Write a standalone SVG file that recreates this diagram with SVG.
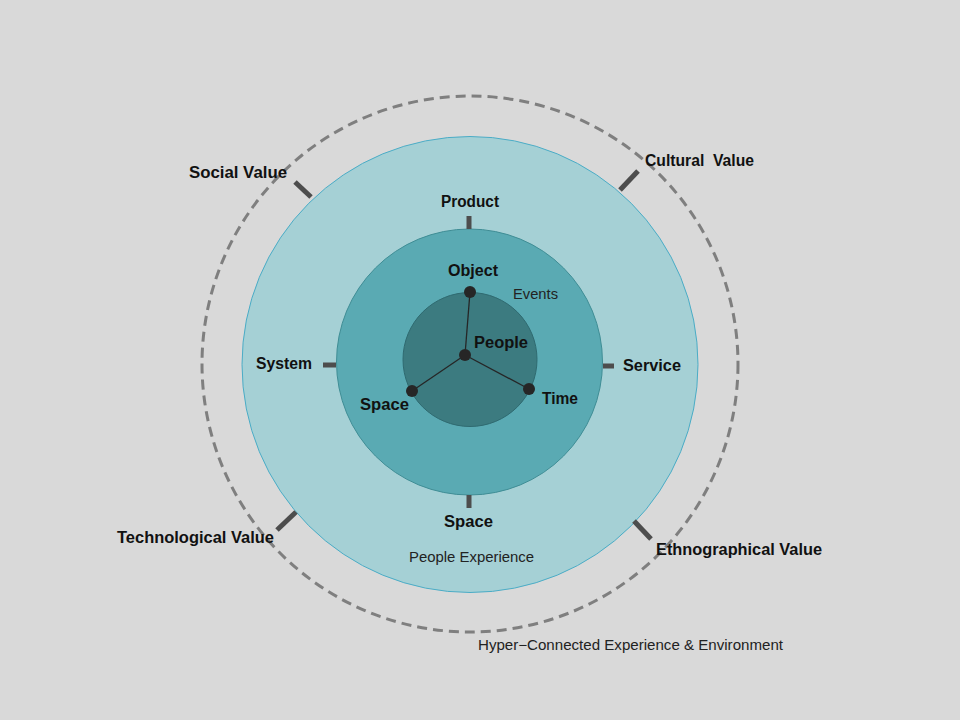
<svg xmlns="http://www.w3.org/2000/svg" width="960" height="720" viewBox="0 0 960 720">
<style>
.lbl{font-family:"Liberation Sans",Arial,sans-serif;font-weight:bold;font-size:16px;fill:#111}
.sm{font-family:"Liberation Sans",Arial,sans-serif;font-size:14px;fill:#222}
.tick{stroke:#4d4d4d;stroke-width:5;fill:none}
.dot{fill:#262626}
.spoke{stroke:#262626;stroke-width:1.3}
</style>
<rect width="960" height="720" fill="#d9d9d9"/>
<g id="environment">
<circle cx="470" cy="364" r="268" fill="none" stroke="#7f7f7f" stroke-width="3" stroke-dasharray="10 6"/>
<text class="sm" x="478" y="650" textLength="305" lengthAdjust="spacingAndGlyphs">Hyper−Connected Experience &amp; Environment</text>
</g>
<g id="people-experience">
<circle cx="470" cy="364.5" r="228" fill="#a5d0d5" stroke="#4bacc6" stroke-width="1"/>
<text class="sm" x="409" y="562" textLength="125" lengthAdjust="spacingAndGlyphs">People Experience</text>
</g>
<g id="events">
<circle cx="469.5" cy="362" r="133" fill="#5aaab3" stroke="#3f8d95" stroke-width="1"/>
<text class="sm" x="513" y="299" textLength="45" lengthAdjust="spacingAndGlyphs">Events</text>
</g>
<g id="core">
<circle cx="470" cy="359.5" r="67" fill="#3c7b80" stroke="#2f6a70" stroke-width="1"/>
</g>
<g id="connectors">
<line class="spoke" x1="465" y1="355" x2="470" y2="292"/>
<line class="spoke" x1="465" y1="355" x2="529" y2="389"/>
<line class="spoke" x1="465" y1="355" x2="412" y2="391"/>
<line class="tick" x1="469" y1="216" x2="469" y2="229"/>
<line class="tick" x1="469" y1="495" x2="469" y2="508"/>
<line class="tick" x1="323" y1="365" x2="336" y2="365"/>
<line class="tick" x1="603" y1="366" x2="614" y2="366"/>
<line class="tick" x1="295" y1="182" x2="311" y2="197"/>
<line class="tick" x1="620" y1="190" x2="638" y2="171"/>
<line class="tick" x1="277" y1="530" x2="296" y2="512"/>
<line class="tick" x1="634" y1="521" x2="651" y2="539"/>
</g>
<g id="people"><circle class="dot" cx="465" cy="355" r="6"/><text class="lbl" x="474" y="348" textLength="54" lengthAdjust="spacingAndGlyphs">People</text></g>
<g id="object"><circle class="dot" cx="470" cy="292" r="6"/><text class="lbl" x="448" y="276" textLength="50" lengthAdjust="spacingAndGlyphs">Object</text></g>
<g id="time"><circle class="dot" cx="529" cy="389" r="6"/><text class="lbl" x="542" y="404" textLength="36" lengthAdjust="spacingAndGlyphs">Time</text></g>
<g id="space-inner"><circle class="dot" cx="412" cy="391" r="6"/><text class="lbl" x="360" y="410" textLength="49" lengthAdjust="spacingAndGlyphs">Space</text></g>
<g id="product"><text class="lbl" x="441" y="207" textLength="58" lengthAdjust="spacingAndGlyphs">Product</text></g>
<g id="space-outer"><text class="lbl" x="444" y="527" textLength="49" lengthAdjust="spacingAndGlyphs">Space</text></g>
<g id="system"><text class="lbl" x="256" y="369" textLength="56" lengthAdjust="spacingAndGlyphs">System</text></g>
<g id="service"><text class="lbl" x="623" y="371" textLength="58" lengthAdjust="spacingAndGlyphs">Service</text></g>
<g id="social-value"><text class="lbl" x="189" y="178" textLength="98" lengthAdjust="spacingAndGlyphs">Social Value</text></g>
<g id="cultural-value"><text class="lbl" x="645" y="166" xml:space="preserve" textLength="109" lengthAdjust="spacingAndGlyphs">Cultural  Value</text></g>
<g id="technological-value"><text class="lbl" x="117" y="543" textLength="157" lengthAdjust="spacingAndGlyphs">Technological Value</text></g>
<g id="ethnographical-value"><text class="lbl" x="656" y="555" textLength="166" lengthAdjust="spacingAndGlyphs">Ethnographical Value</text></g>
</svg>
